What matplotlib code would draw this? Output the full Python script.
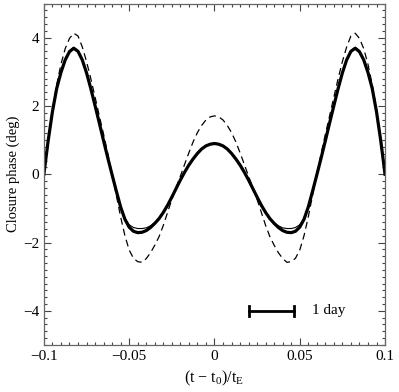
import numpy as np
import matplotlib
matplotlib.use("Agg")
import matplotlib.pyplot as plt

plt.rcParams['font.family'] = ['Liberation Serif', 'DejaVu Serif']
plt.rcParams['mathtext.fontset'] = 'custom'
plt.rcParams['mathtext.rm'] = 'Liberation Serif'

# time from peak in units of t_E
x = np.linspace(-0.1, 0.1, 81)

# closure phase (deg)
thick = [0.00, 0.98, 1.83, 2.51, 2.98, 3.35, 3.59, 3.69, 3.60, 3.35,
         2.97, 2.51, 2.01, 1.50, 0.98, 0.47, -0.02, -0.50, -0.96, -1.32,
         -1.55, -1.67, -1.71, -1.70, -1.65, -1.56, -1.44, -1.30, -1.12, -0.91,
         -0.67, -0.42, -0.17, 0.06, 0.27, 0.45, 0.61, 0.74, 0.83, 0.88,
         0.90,
         0.88, 0.83, 0.74, 0.61, 0.45, 0.27, 0.06, -0.17, -0.42, -0.67,
         -0.91, -1.12, -1.30, -1.44, -1.56, -1.65, -1.70, -1.71, -1.67, -1.55,
         -1.32, -0.96, -0.50, -0.02, 0.47, 0.98, 1.50, 2.01, 2.51, 2.97,
         3.35, 3.60, 3.69, 3.59, 3.35, 2.98, 2.51, 1.83, 0.98, 0.00]

thin = [0.00, 0.98, 1.83, 2.51, 2.98, 3.35, 3.62, 3.72, 3.62, 3.35,
        2.97, 2.51, 2.01, 1.50, 0.98, 0.47, -0.02, -0.50, -0.96, -1.29,
        -1.48, -1.56, -1.59, -1.59, -1.57, -1.51, -1.42, -1.30, -1.12, -0.91,
        -0.67, -0.42, -0.17, 0.06, 0.27, 0.45, 0.61, 0.74, 0.83, 0.88,
        0.90,
        0.88, 0.83, 0.74, 0.61, 0.45, 0.27, 0.06, -0.17, -0.42, -0.67,
        -0.91, -1.12, -1.30, -1.42, -1.51, -1.57, -1.59, -1.59, -1.56, -1.48,
        -1.29, -0.96, -0.50, -0.02, 0.47, 0.98, 1.50, 2.01, 2.51, 2.97,
        3.35, 3.62, 3.72, 3.62, 3.35, 2.98, 2.51, 1.83, 0.98, 0.00]

dashed = [0.00, 1.00, 1.90, 2.62, 3.22, 3.68, 3.98, 4.13, 4.05, 3.73,
          3.30, 2.80, 2.26, 1.71, 1.17, 0.60, 0.00, -0.62, -1.25, -1.80,
          -2.22, -2.46, -2.56, -2.58, -2.47, -2.30, -2.08, -1.83, -1.50, -1.12,
          -0.74, -0.39, -0.06, 0.29, 0.63, 0.95, 1.22, 1.43, 1.59, 1.68,
          1.71,
          1.68, 1.59, 1.43, 1.22, 0.95, 0.63, 0.29, -0.06, -0.39, -0.74,
          -1.12, -1.50, -1.83, -2.08, -2.30, -2.47, -2.58, -2.56, -2.46, -2.22,
          -1.80, -1.25, -0.62, 0.00, 0.60, 1.17, 1.71, 2.26, 2.80, 3.30,
          3.73, 4.05, 4.13, 3.98, 3.68, 3.22, 2.62, 1.90, 1.00, 0.00]

# one-day scale bar
bar_x = [0.0202, 0.0468]
bar_y = -4.0
bar_label = '1 day'

fig = plt.figure(figsize=(3.99, 3.92), dpi=100)
ax = fig.add_axes([0.110, 0.120, 0.855, 0.871])

ax.plot(x, dashed, color='black', lw=0.9, ls=(0, (5.5, 3.5)))
ax.plot(x, thin, color='black', lw=0.8)
ax.plot(x, thick, color='black', lw=2.3)

ax.plot(bar_x, [bar_y, bar_y], color='black', lw=2)
for bx in bar_x:
    ax.plot([bx, bx], [bar_y - 0.15, bar_y + 0.15], color='black', lw=2)
ax.text(0.057, bar_y, bar_label, fontsize=11, va='center', ha='left')

ax.set_xlim(-0.1, 0.1)
ax.set_ylim(-5, 5)
ax.set_xticks([-0.1, -0.05, 0, 0.05, 0.1])
ax.set_xticklabels(['\u22120.1', '\u22120.05', '0', '0.05', '0.1'])
ax.set_yticks([-4, -2, 0, 2, 4])
ax.xaxis.set_minor_locator(plt.MultipleLocator(0.005))
ax.yaxis.set_minor_locator(plt.MultipleLocator(0.2))
ax.tick_params(which='both', direction='in', top=True, right=True,
               labelsize=11, color='#444444', width=0.8)
ax.tick_params(which='major', length=5)
ax.tick_params(which='minor', length=2.5)
for s in ax.spines.values():
    s.set_color('#666666')
    s.set_linewidth(0.9)

ax.set_xlabel('(t \u2212 t$_0$)/t$_\\mathrm{E}$', fontsize=11.5, labelpad=4)
ax.set_ylabel('Closure phase (deg)', fontsize=10.5, labelpad=2)

fig.savefig('out.png', dpi=100)
